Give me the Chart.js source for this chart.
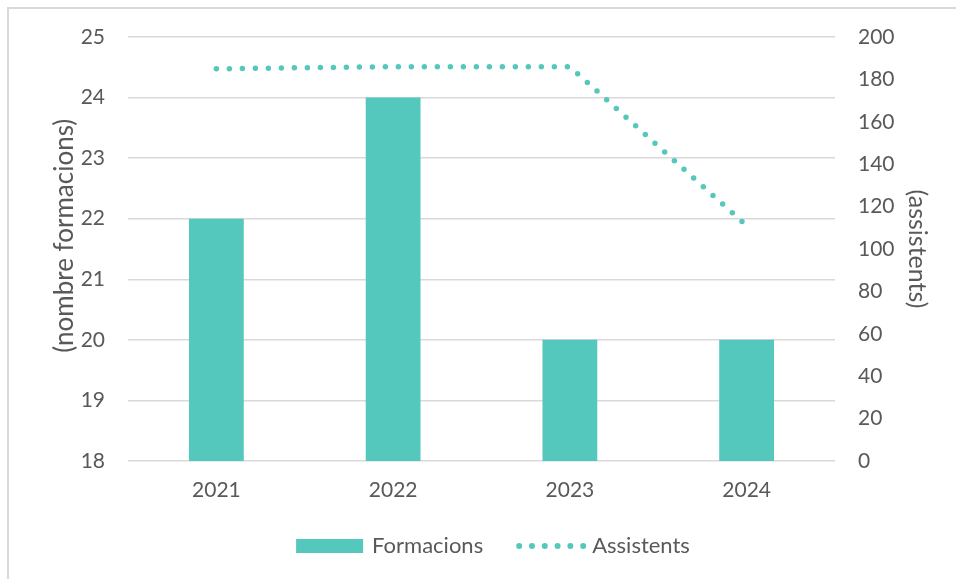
<!DOCTYPE html>
<html>
<head>
<meta charset="utf-8">
<script src="https://cdn.jsdelivr.net/npm/chart.js@4.4.1/dist/chart.umd.min.js"></script>
<style>
  html, body { margin: 0; padding: 0; background: #fff; overflow: hidden; }
  #frame { position: absolute; left: 7px; top: 7px; width: 980px; height: 600px; border: 2px solid #d9d9d9; }
  #wrap { position: absolute; left: 0; top: 0; width: 956px; height: 579px; }
</style>
</head>
<body>
<div id="frame"></div>
<div id="wrap"><canvas id="myChart" width="956" height="579"></canvas></div>
<script>
// data
var years = ['2021', '2022', '2023', '2024'];
var formacions = [22, 24, 20, 20];
var assistents = [185, 186, 186, 111];
var leftTicks = [18, 25, 1];
var rightTicks = [0, 200, 20];

var teal = '#55c8be';
var textColor = '#595959';
var gridColor = '#d9d9d9';
var fontFam = 'Lato, "Open Sans", sans-serif';

Chart.defaults.font.family = fontFam;
Chart.defaults.font.size = 21;
Chart.defaults.color = textColor;

// legend drawn by hand (dotted sample for the line)
var legendPlugin = {
    id: 'ownLegend',
    afterDraw: function(chart) {
        var ctx = chart.ctx;
        var ds = chart.data.datasets;
        ctx.save();
        ctx.font = '22px ' + fontFam;
        ctx.textBaseline = 'middle';
        var boxW = 67, gap = 9, itemGap = 33;
        var w0 = ctx.measureText(ds[0].label).width;
        var w1 = ctx.measureText(ds[1].label).width;
        var total = boxW + gap + w0 + itemGap + boxW + gap + w1;
        var x = 493 - total / 2;
        var y = 546;
        ctx.fillStyle = teal;
        ctx.fillRect(x, y - 7, boxW, 14);
        ctx.fillStyle = textColor;
        ctx.fillText(ds[0].label, x + boxW + gap, y);
        x += boxW + gap + w0 + itemGap;
        ctx.fillStyle = teal;
        for (var i = 0; i < 6; i++) {
            ctx.beginPath();
            ctx.arc(x + 3 + i * 12.8, y, 3, 0, Math.PI * 2);
            ctx.fill();
        }
        ctx.fillStyle = textColor;
        ctx.fillText(ds[1].label, x + boxW + gap, y);
        ctx.restore();
    }
};

var ctx = document.getElementById('myChart').getContext('2d');
var myChart = new Chart(ctx, {
    type: 'bar',
    data: {
        labels: years,
        datasets: [{
            label: 'Formacions',
            data: formacions,
            backgroundColor: teal,
            yAxisID: 'y',
            categoryPercentage: 1,
            barPercentage: 0.31,
            order: 2
        }, {
            type: 'line',
            label: 'Assistents',
            data: assistents,
            borderColor: teal,
            borderWidth: 5.5,
            borderDash: [0, 13],
            borderCapStyle: 'round',
            pointRadius: 0,
            tension: 0,
            fill: false,
            yAxisID: 'y1',
            order: 1
        }]
    },
    options: {
        responsive: false,
        animation: false,
        layout: { padding: { left: 43, right: 15, top: 37, bottom: 0 } },
        plugins: {
            legend: { display: false },
            tooltip: { enabled: false }
        },
        scales: {
            x: {
                grid: { display: false, drawTicks: false },
                border: { display: false },
                ticks: { padding: 17 },
                afterFit: function(s) { s.height = 118; }
            },
            y: {
                position: 'left',
                min: leftTicks[0],
                max: leftTicks[1],
                ticks: { stepSize: leftTicks[2], padding: 23 },
                grid: { color: gridColor, lineWidth: 1.5, drawTicks: false },
                border: { display: false },
                title: { display: true, text: '    (nombre formacions)', font: { size: 26 }, padding: { top: 6, bottom: 0 } },
                afterFit: function(s) { s.width = 85; }
            },
            y1: {
                position: 'right',
                min: rightTicks[0],
                max: rightTicks[1],
                ticks: { stepSize: rightTicks[2], padding: 23 },
                grid: { display: false, drawTicks: false },
                border: { display: false },
                title: { display: true, text: '(assistents)', font: { size: 25 }, padding: { top: 9, bottom: 0 } },
                afterFit: function(s) { s.width = 106; }
            }
        }
    },
    plugins: [legendPlugin]
});
</script>
</body>
</html>
